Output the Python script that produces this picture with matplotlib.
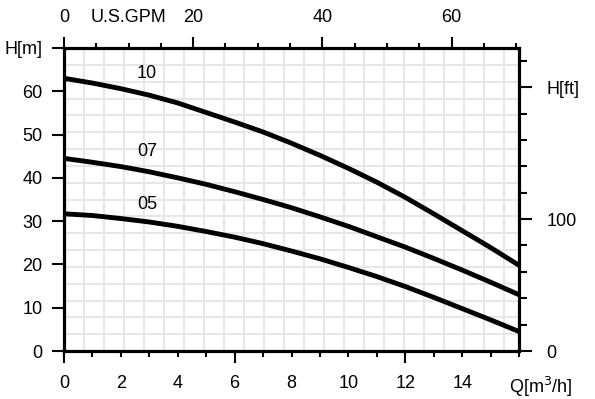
import numpy as np
import matplotlib
matplotlib.use("Agg")
import matplotlib.pyplot as plt
import matplotlib.transforms as mtransforms

plt.rcParams["font.family"] = ["Liberation Sans", "DejaVu Sans"]

# -----------------------------
# Data
# -----------------------------
flow = [0, 1, 2, 3, 4, 5, 6, 7, 8, 9, 10, 11, 12, 13, 14, 15, 16]  # m3/h
head_10 = [63.0, 61.9, 60.6, 59.1, 57.3, 55.1, 52.9, 50.6, 48.0, 45.2,
           42.2, 39.0, 35.5, 31.7, 27.8, 23.9, 19.8]
head_07 = [44.5, 43.6, 42.6, 41.4, 40.0, 38.5, 36.8, 35.0, 33.1, 31.0,
           28.8, 26.4, 24.0, 21.4, 18.7, 15.9, 13.0]
head_05 = [31.7, 31.3, 30.6, 29.8, 28.8, 27.6, 26.3, 24.8, 23.1, 21.3,
           19.3, 17.2, 14.9, 12.4, 9.8, 7.2, 4.5]
curve_names = ["10", "07", "05"]
label_pos = [(2.92, 64.1), (2.92, 46.2), (2.92, 33.8)]

x_ticks = [0, 2, 4, 6, 8, 10, 12, 14, 16]
x_labels = ["0", "2", "4", "6", "8", "10", "12", "14", "Q[m$^3$/h]"]
y_ticks = [0, 10, 20, 30, 40, 50, 60, 70]
y_labels = ["0", "10", "20", "30", "40", "50", "60", "H[m]"]
gpm_ticks = [0, 20, 40, 60]
ft_ticks = [0, 100, 200]
ft_labels = ["0", "100", "H[ft]"]

GPM_PER_M3H = 4.403
FT_PER_M = 3.2808

# -----------------------------
# Figure
# -----------------------------
fig = plt.figure(figsize=(5.95, 3.99), dpi=100)
rect = [64 / 595, 1 - 351 / 399, 455 / 595, 303 / 399]

# background grid (its own spacing, not tied to the ticks)
gax = fig.add_axes(rect, zorder=0)
gax.set_xlim(0, 22.75)
gax.set_ylim(0, 18.0)
gax.set_xticks(np.arange(1, 23))
gax.set_yticks(np.arange(1, 18))
gax.grid(True, color="#e6e6e6", linewidth=1.4)
gax.tick_params(length=0, labelbottom=False, labelleft=False)
for s in gax.spines.values():
    s.set_visible(False)

ax = fig.add_axes(rect, zorder=1)
ax.patch.set_alpha(0)

for h in [head_10, head_07, head_05]:
    ax.plot(flow, h, color="black", linewidth=3.5, solid_capstyle="butt",
            solid_joinstyle="round")

for name, (qx, hy) in zip(curve_names, label_pos):
    ax.text(qx, hy, name, fontsize=13, ha="center", va="center")

ax.set_xlim(0, 16)
ax.set_ylim(0, 70)

for s in ax.spines.values():
    s.set_linewidth(2.3)
    s.set_color("black")

# bottom axis: labels every 2, short ticks every 1
ax.set_xticks(x_ticks)
ax.set_xticklabels(x_labels)
ax.set_xticks(flow, minor=True)
ax.tick_params(axis="x", which="both", direction="out", length=4.3, width=1.5,
               pad=13, labelsize=13)
last = ax.get_xticklabels()[-1]
last.set_horizontalalignment("left")
last.set_transform(last.get_transform() +
                   mtransforms.ScaledTranslation(-7 / 72, 0, fig.dpi_scale_trans))

# long ticks at 0, 6, 12
bx = ax.secondary_xaxis("bottom")
bx.set_xticks([0, 6, 12])
bx.set_xticklabels([])
bx.tick_params(length=8.6, width=1.5)
bx.spines["bottom"].set_visible(False)

# left axis
ax.set_yticks(y_ticks)
ax.set_yticklabels(y_labels)
ax.tick_params(axis="y", direction="out", length=8.4, width=1.5, pad=7,
               labelsize=13)

# top axis in U.S. GPM
tx = ax.secondary_xaxis("top", functions=(lambda q: q * GPM_PER_M3H,
                                          lambda g: g / GPM_PER_M3H))
tx.set_xticks(gpm_ticks)
tx.set_xticks(np.arange(0, 71, 5), minor=True)
tx.tick_params(which="major", length=8, width=1.5, pad=8, labelsize=13)
tx.tick_params(which="minor", length=3.3, width=1.5)
tx.spines["top"].set_visible(False)
ax.annotate("U.S.GPM", xy=(10 / GPM_PER_M3H, 1), xycoords=("data", "axes fraction"),
            xytext=(0, 16), textcoords="offset points", ha="center", va="bottom",
            fontsize=13)

# right axis in feet
ry = ax.secondary_yaxis("right", functions=(lambda m: m * FT_PER_M,
                                            lambda f: f / FT_PER_M))
ry.set_yticks(ft_ticks)
ry.set_yticklabels(ft_labels)
ry.set_yticks(np.arange(0, 230, 20), minor=True)
ry.tick_params(which="major", length=9.4, width=1.5, pad=10.5, labelsize=13)
ry.tick_params(which="minor", length=5.8, width=1.5)
ry.spines["right"].set_visible(False)

fig.savefig("out.png", dpi=100)
